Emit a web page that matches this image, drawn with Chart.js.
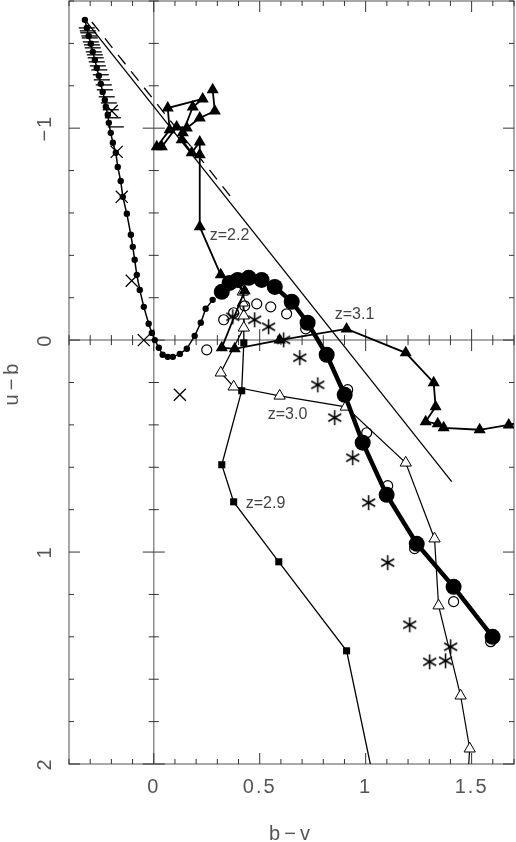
<!DOCTYPE html>
<html>
<head>
<meta charset="utf-8">
<title>u-b vs b-v</title>
<script src="https://cdn.jsdelivr.net/npm/chart.js@4"></script>
<style>
  html, body { margin: 0; padding: 0; background: #fff; }
  canvas { display: block; }
</style>
</head>
<body>
<canvas id="cmd" width="516" height="842"></canvas>
<script>
// --- data (b-v on x, u-b on y) ---

// model track, small filled dots
const dotBV = [-0.325, -0.316, -0.307, -0.297, -0.288, -0.278, -0.269, -0.259, -0.250, -0.241,
  -0.231, -0.226, -0.217, -0.212, -0.203, -0.193, -0.179, -0.170, -0.156, -0.146,
  -0.127, -0.108, -0.099, -0.090, -0.080, -0.066, -0.047, -0.024, -0.009, 0.005,
  0.024, 0.042, 0.066, 0.090, 0.123, 0.156, 0.193, 0.222, 0.245, 0.278];
const dotUB = [-1.511, -1.473, -1.435, -1.398, -1.360, -1.322, -1.284, -1.247, -1.209, -1.171,
  -1.133, -1.101, -1.063, -1.025, -0.978, -0.931, -0.884, -0.817, -0.751, -0.676,
  -0.596, -0.497, -0.440, -0.379, -0.308, -0.237, -0.157, -0.077, -0.034, 0.000,
  0.036, 0.069, 0.079, 0.079, 0.065, 0.041, -0.020, -0.082, -0.148, -0.190];

// horizontal dash markers along the top of the track
const dashBV = [-0.316, -0.311, -0.309, -0.304, -0.302, -0.297, -0.292, -0.288, -0.283, -0.278,
  -0.274, -0.269, -0.264, -0.257, -0.250, -0.245, -0.236, -0.231, -0.222, -0.212, -0.203, -0.193, -0.179];
const dashUB = [-1.473, -1.459, -1.450, -1.435, -1.426, -1.407, -1.393, -1.379, -1.360, -1.346,
  -1.332, -1.313, -1.294, -1.275, -1.252, -1.228, -1.204, -1.181, -1.148, -1.119, -1.087, -1.049, -1.006];

// big filled circles, thick line
const bigBV = [0.321, 0.358, 0.396, 0.448, 0.509, 0.571, 0.651, 0.726, 0.816, 0.901, 0.986, 1.099, 1.241, 1.415, 1.599];
const bigUB = [-0.228, -0.270, -0.284, -0.294, -0.284, -0.251, -0.181, -0.082, 0.069, 0.258, 0.484, 0.730, 0.961, 1.164, 1.400];

// open circles
const openBV = [0.250, 0.330, 0.377, 0.429, 0.486, 0.552, 0.627, 0.717, 0.915, 1.005, 1.104, 1.231, 1.415, 1.590];
const openUB = [0.046, -0.096, -0.129, -0.162, -0.171, -0.157, -0.124, -0.053, 0.234, 0.437, 0.687, 0.984, 1.234, 1.423];

// asterisks
const starBV = [0.373, 0.476, 0.542, 0.613, 0.689, 0.774, 0.854, 0.939, 1.014, 1.104, 1.208, 1.302, 1.377, 1.401];
const starUB = [-0.110, -0.096, -0.063, -0.001, 0.083, 0.211, 0.366, 0.555, 0.767, 1.050, 1.343, 1.518, 1.513, 1.447];

// crosses
const crossBV = [-0.198, -0.175, -0.151, -0.104, -0.047, 0.123];
const crossUB = [-1.081, -0.888, -0.676, -0.280, 0.000, 0.258];

// filled triangles (z=2.2 ... z=3.1 track)
const triBV = [0.278, 0.288, 0.217, 0.156, 0.108, 0.038, 0.014, 0.075, 0.066, 0.231,
  0.184, 0.137, 0.132, 0.179, 0.217, 0.217, 0.217, 0.316, 0.429, 0.321,
  0.382, 0.594, 0.910, 1.189, 1.321, 1.330, 1.283, 1.340, 1.368, 1.538, 1.675, 1.800];
const triUB = [-1.181, -1.081, -1.048, -1.001, -1.006, -0.912, -0.912, -0.992, -1.095, -1.138,
  -1.100, -0.978, -0.945, -0.884, -0.935, -0.874, -0.535, -0.308, -0.233, 0.036,
  0.041, 0.000, -0.053, 0.060, 0.201, 0.315, 0.385, 0.395, 0.414, 0.423, 0.400, 0.370];

// open triangles (z=3.0 track)
const otriBV = [0.420, 0.420, 0.425, 0.425, 0.316, 0.377, 0.594, 0.906, 1.189, 1.325, 1.344, 1.448, 1.491, 1.480];
const otriUB = [-0.228, -0.176, -0.115, -0.058, 0.154, 0.220, 0.263, 0.315, 0.579, 0.937, 1.253, 1.678, 1.928, 2.100];

// filled squares (z=2.9 track)
const sqBV = [0.425, 0.425, 0.415, 0.321, 0.377, 0.590, 0.910, 1.064];
const sqUB = [-0.228, 0.013, 0.239, 0.588, 0.763, 1.046, 1.466, 2.200];

// straight reference lines
const solidBV = [-0.321, 1.406];
const solidUB = [-1.506, 0.668];
const dashedBV = [-0.292, 0.382];
const dashedUB = [-1.501, -0.653];

// tick labels and redshift labels
const xTickVals = [0, 0.5, 1, 1.5];
const xTickText = ['0', '0.5', '1', '1.5'];
const yTickVals = [-1, 0, 1, 2];
const yTickText = ['\u22121', '0', '1', '2'];
const zText = ['z=2.2', 'z=3.1', 'z=3.0', 'z=2.9'];
const zBV = [0.264, 0.854, 0.538, 0.434];
const zUB = [-0.492, -0.119, 0.352, 0.772];

const pts = (xs, ys) => xs.map((v, i) => ({ x: v, y: ys[i] }));

// 6-armed asterisk marker
function makeAsterisk(size) {
  const c = document.createElement('canvas');
  c.width = c.height = size;
  const g = c.getContext('2d');
  const m = size / 2, r = size / 2 - 1;
  g.strokeStyle = '#000';
  g.lineWidth = 1.5;
  g.beginPath();
  for (let k = 0; k < 3; k++) {
    const a = Math.PI / 2 + k * Math.PI / 3;
    g.moveTo(m + r * Math.cos(a), m + r * Math.sin(a));
    g.lineTo(m - r * Math.cos(a), m - r * Math.sin(a));
  }
  g.stroke();
  return c;
}

const FONT = '"Liberation Sans", Arial, sans-serif';

// frame, zero axes, inward ticks and labels
const axesPlugin = {
  id: 'axesPlugin',
  beforeDatasetsDraw(chart) {
    const { ctx, chartArea: a, scales: { x, y } } = chart;
    const seg = (x1, y1, x2, y2) => { ctx.beginPath(); ctx.moveTo(x1, y1); ctx.lineTo(x2, y2); ctx.stroke(); };
    const x0 = x.getPixelForValue(0), y0 = y.getPixelForValue(0);
    ctx.save();
    ctx.strokeStyle = '#8c8c8c';
    ctx.lineWidth = 1.5;
    ctx.strokeRect(a.left, a.top, a.right - a.left, a.bottom - a.top);
    seg(x0, a.top, x0, a.bottom);
    seg(a.left, y0, a.right, y0);

    ctx.strokeStyle = '#333';
    ctx.lineWidth = 1;
    for (let i = -4; i <= 17; i++) {
      const px = x.getPixelForValue(i / 10);
      const len = i % 5 === 0 ? 11 : 5;
      seg(px, a.top, px, a.top + len);
      seg(px, a.bottom, px, a.bottom - len);
      seg(px, y0 - len, px, y0 + len);
    }
    for (let i = -8; i <= 10; i++) {
      const py = y.getPixelForValue(i / 5);
      const len = i % 5 === 0 ? 11 : 5;
      seg(a.left, py, a.left + len, py);
      seg(a.right, py, a.right - len, py);
      seg(x0 - len, py, x0 + len, py);
    }

    ctx.fillStyle = '#555';
    ctx.font = '20px ' + FONT;
    ctx.textAlign = 'center';
    ctx.textBaseline = 'middle';
    ctx.letterSpacing = '2px';
    xTickVals.forEach((v, i) => ctx.fillText(xTickText[i], x.getPixelForValue(v), 787));
    yTickVals.forEach((v, i) => {
      ctx.save();
      ctx.translate(45, y.getPixelForValue(v));
      ctx.rotate(-Math.PI / 2);
      ctx.fillText(yTickText[i], 0, 0);
      ctx.restore();
    });
    ctx.letterSpacing = '4px';
    ctx.fillText('b\u2212v', (a.left + a.right) / 2, 834);
    ctx.save();
    ctx.translate(12, (a.top + a.bottom) / 2);
    ctx.rotate(-Math.PI / 2);
    ctx.fillText('u\u2212b', 0, 0);
    ctx.restore();
    ctx.restore();
  },
  afterDatasetsDraw(chart) {
    const { ctx, scales: { x, y } } = chart;
    ctx.save();
    ctx.fillStyle = '#444';
    ctx.font = '16px ' + FONT;
    ctx.textAlign = 'left';
    ctx.textBaseline = 'middle';
    zText.forEach((t, i) => ctx.fillText(t, x.getPixelForValue(zBV[i]), y.getPixelForValue(zUB[i])));
    ctx.restore();
  }
};

const asterisk = makeAsterisk(17);

new Chart(document.getElementById('cmd'), {
  type: 'scatter',
  data: {
    datasets: [
      { data: pts(bigBV, bigUB), showLine: true, borderColor: '#000', borderWidth: 4.5,
        pointStyle: 'circle', pointRadius: 8, pointBackgroundColor: '#000', pointBorderWidth: 0 },
      { data: pts(openBV, openUB), pointStyle: 'circle', pointRadius: 5,
        pointBackgroundColor: 'rgba(0,0,0,0)', pointBorderColor: '#000', pointBorderWidth: 1.2 },
      { data: pts(starBV, starUB), pointStyle: asterisk, pointRadius: 8 },
      { data: pts(crossBV, crossUB), pointStyle: 'crossRot', pointRadius: 8.5,
        pointBorderColor: '#000', pointBorderWidth: 1.3 },
      { data: pts(triBV, triUB), showLine: true, borderColor: '#000', borderWidth: 1.8,
        pointStyle: 'triangle', pointRadius: 7, pointBackgroundColor: '#000', pointBorderColor: '#000', pointBorderWidth: 0 },
      { data: pts(otriBV, otriUB), showLine: true, borderColor: '#000', borderWidth: 1.2,
        pointStyle: 'triangle', pointRadius: 6.5, pointBackgroundColor: '#fff', pointBorderColor: '#000', pointBorderWidth: 1 },
      { data: pts(sqBV, sqUB), showLine: true, borderColor: '#000', borderWidth: 1.3,
        pointStyle: 'rect', pointRadius: 5, pointBackgroundColor: '#000', pointBorderWidth: 0 },
      { data: pts(dotBV, dotUB), showLine: true, borderColor: '#000', borderWidth: 1.5,
        pointStyle: 'circle', pointRadius: 3.2, pointBackgroundColor: '#000', pointBorderWidth: 0 },
      { data: pts(dashBV, dashUB), pointStyle: 'line', pointRadius: 8,
        pointBorderColor: '#000', pointBorderWidth: 1.3 },
      { data: pts(solidBV, solidUB), showLine: true, borderColor: '#000', borderWidth: 1.3, pointRadius: 0 },
      { data: pts(dashedBV, dashedUB), showLine: true, borderColor: '#000', borderWidth: 1.3,
        borderDash: [12, 9], pointRadius: 0 }
    ]
  },
  options: {
    responsive: false,
    animation: false,
    events: [],
    layout: { autoPadding: false, padding: { left: 69, top: 1, right: 2, bottom: 78 } },
    plugins: { legend: { display: false }, tooltip: { enabled: false } },
    scales: {
      x: { type: 'linear', min: -0.4, max: 1.7, display: false },
      y: { type: 'linear', min: -1.6, max: 2, reverse: true, display: false }
    }
  },
  plugins: [axesPlugin]
});
</script>
</body>
</html>
